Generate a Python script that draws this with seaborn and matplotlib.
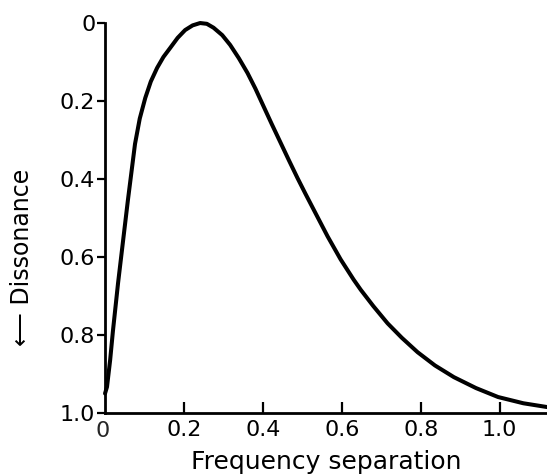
import numpy as np
import pandas as pd
import matplotlib
matplotlib.use("Agg")
import matplotlib.pyplot as plt
import seaborn as sns

# --- Curve (frequency separation vs dissonance) ---
freq_sep = [0.000, 0.005, 0.013, 0.020, 0.033, 0.046, 0.058, 0.066, 0.076, 0.088,
            0.102, 0.116, 0.132, 0.148, 0.165, 0.184, 0.203, 0.222, 0.241, 0.258,
            0.275, 0.297, 0.317, 0.339, 0.361, 0.381, 0.401, 0.422, 0.444, 0.466,
            0.488, 0.508, 0.528, 0.546, 0.564, 0.597, 0.630, 0.648, 0.680, 0.716,
            0.752, 0.792, 0.836, 0.884, 0.940, 0.996, 1.060, 1.122]
dissonance = [0.950, 0.933, 0.864, 0.790, 0.667, 0.556, 0.454, 0.390, 0.310, 0.245,
              0.192, 0.150, 0.115, 0.087, 0.064, 0.038, 0.018, 0.006, 0.000, 0.002,
              0.012, 0.031, 0.056, 0.090, 0.128, 0.168, 0.212, 0.258, 0.305, 0.352,
              0.398, 0.438, 0.477, 0.512, 0.547, 0.606, 0.658, 0.684, 0.726, 0.770,
              0.807, 0.844, 0.878, 0.908, 0.936, 0.959, 0.975, 0.985]

x_ticks = [0.2, 0.4, 0.6, 0.8, 1.0]
x_ticklabels = ["0.2", "0.4", "0.6", "0.8", "1.0"]
y_ticks = [0, 0.2, 0.4, 0.6, 0.8, 1.0]
y_ticklabels = ["0", "0.2", "0.4", "0.6", "0.8", "1.0"]

df = pd.DataFrame({"sep": freq_sep, "diss": dissonance})

sns.set_style("ticks")
plt.rcParams["font.family"] = ["DejaVu Sans"]

fig = plt.figure(figsize=(5.47, 4.75), dpi=100)
ax = fig.add_axes([0.192, 0.1305, 0.808, 0.821])

sns.lineplot(data=df, x="sep", y="diss", color="black", linewidth=2.9,
             sort=False, ax=ax, clip_on=False)

ax.set_xlim(0, 1.12)
ax.set_ylim(1.0, 0)

ax.set_xticks(x_ticks)
ax.set_xticklabels(x_ticklabels)
ax.set_yticks(y_ticks)
ax.set_yticklabels(y_ticklabels)

ax.tick_params(axis="x", direction="in", length=8, width=1.6, pad=5,
               labelsize=16, colors="black")
ax.tick_params(axis="y", direction="out", length=6, width=1.6, pad=1,
               labelsize=16, colors="black")

# the "0" under the corner sits just left of the origin
ax.text(-0.005, -0.02, "0", transform=ax.get_xaxis_transform(),
        ha="center", va="top", fontsize=16)

sns.despine(ax=ax)
for side in ["left", "bottom"]:
    ax.spines[side].set_linewidth(2.0)
    ax.spines[side].set_color("black")

ax.set_xlabel("Frequency separation", fontsize=18, color="black")
ax.xaxis.set_label_coords(0.5, -0.095)
ax.set_ylabel("\u27f5 Dissonance", fontsize=17, color="black")
ax.yaxis.set_label_coords(-0.16, 0.40)

fig.savefig("out.png", dpi=100, facecolor="white")
